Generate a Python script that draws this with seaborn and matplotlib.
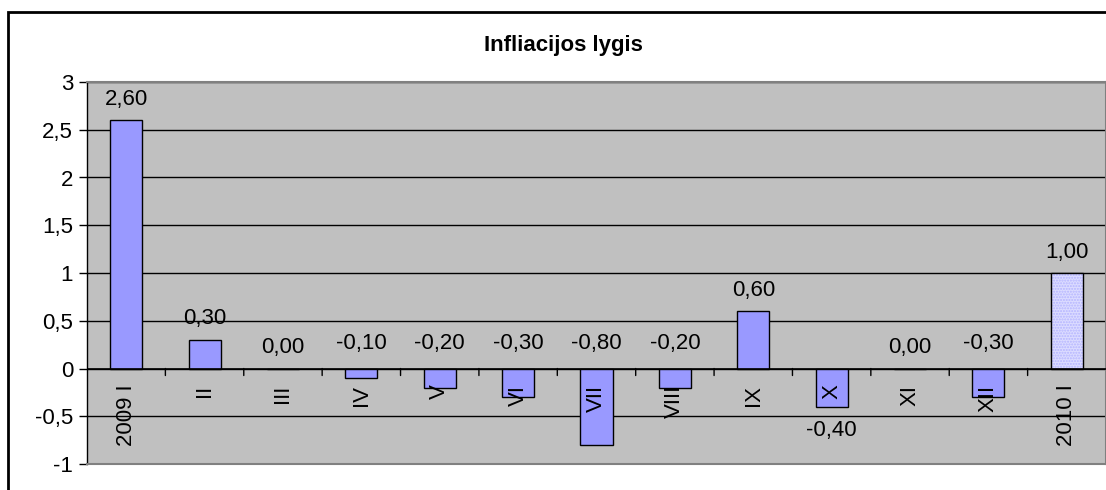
import matplotlib
matplotlib.use("Agg")
import matplotlib.pyplot as plt
import matplotlib.colors as mcolors
import seaborn as sns
import pandas as pd
from matplotlib.patches import Rectangle
from matplotlib.ticker import FuncFormatter

categories = ["2009 I", "II", "III", "IV", "V", "VI", "VII", "VIII", "IX", "X", "XI", "XII", "2010 I"]
values = [2.60, 0.30, 0.00, -0.10, -0.20, -0.30, -0.80, -0.20, 0.60, -0.40, 0.00, -0.30, 1.00]
label_below = [False, False, False, False, False, False, False, False, False, True, False, False, False]
y_ticks = [-1, -0.5, 0, 0.5, 1, 1.5, 2, 2.5, 3]
title = "Infliacijos lygis"

sns.set_theme(style="white")
plt.rcParams['font.family'] = ['Liberation Sans', 'DejaVu Sans']
FS = 16

W, H = 1106, 490
fig = plt.figure(figsize=(W / 100, H / 100), dpi=100)
left, right, top, bottom = 87, 1106, 82, 464
ax = fig.add_axes([left / W, 1 - bottom / H, (right - left) / W, (bottom - top) / H])

df = pd.DataFrame({"cat": categories, "val": values})
sns.barplot(data=df, x="cat", y="val", ax=ax, color="#9999FF", width=0.41,
            edgecolor="black", linewidth=1.0, saturation=1)

# last bar patterned (light dotted fill)
last = ax.patches[len(values) - 1]
last.set_facecolor("#DCDCFF")
last.set_hatch("......")
last._hatch_color = mcolors.to_rgba("#B4B4FF")

ax.set_facecolor("#C0C0C0")
ax.set_xlim(-0.5, len(values) - 0.5)
ax.set_ylim(-1, 3)
ax.set_yticks(y_ticks)
ax.yaxis.set_major_formatter(FuncFormatter(lambda v, p: ("%g" % v).replace(".", ",")))
ax.grid(axis="y", color="black", linewidth=1.0)
ax.set_axisbelow(True)
ax.set_xlabel("")
ax.set_ylabel("")

for s in ["top", "bottom", "right"]:
    ax.spines[s].set_color("#808080")
    ax.spines[s].set_linewidth(1.5)
ax.spines["left"].set_color("black")
ax.spines["left"].set_linewidth(1.0)
ax.tick_params(axis="y", which="both", left=True, length=6, width=1, color="black",
               labelsize=FS, pad=4, labelcolor="black")

# category axis at zero
ax.set_xticks([])
ax.axhline(0, color="black", linewidth=1.2, zorder=3)
for i in range(1, len(values)):
    ax.annotate("", xy=(i - 0.5, 0), xytext=(0, -7), textcoords="offset pixels",
                arrowprops=dict(arrowstyle="-", color="black", lw=1, shrinkA=0, shrinkB=0))
for i, c in enumerate(categories):
    ax.annotate(c, xy=(i, 0), xytext=(0, -16), textcoords="offset pixels",
                rotation=90, ha="center", va="top", fontsize=FS, color="black", zorder=4)

for i, v in enumerate(values):
    txt = ("%.2f" % v).replace(".", ",")
    if label_below[i]:
        ax.annotate(txt, xy=(i, v), xytext=(0, -24), textcoords="offset pixels",
                    ha="center", va="center", fontsize=FS, color="black", zorder=4)
    elif v >= 0:
        ax.annotate(txt, xy=(i, v), xytext=(0, 21), textcoords="offset pixels",
                    ha="center", va="center", fontsize=FS, color="black", zorder=4)
    else:
        ax.annotate(txt, xy=(i, 0), xytext=(0, 25), textcoords="offset pixels",
                    ha="center", va="center", fontsize=FS, color="black", zorder=4)

fig.text(563 / W, 1 - 46 / H, title, ha="center", va="center", fontsize=FS,
         fontweight="bold", color="black")

# outer chart border
fig.patches.append(Rectangle((8 / W, -0.1), 1.2, 1 - 12 / H + 0.1, transform=fig.transFigure,
                             fill=False, edgecolor="black", linewidth=2, zorder=10))

fig.savefig("out.png", dpi=100)
